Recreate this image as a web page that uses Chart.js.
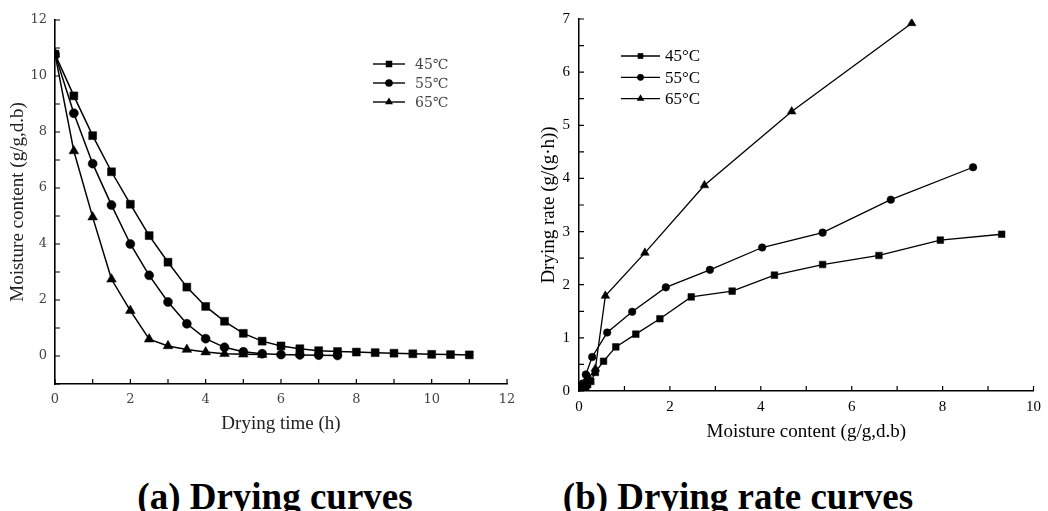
<!DOCTYPE html>
<html>
<head>
<meta charset="utf-8">
<script src="https://cdn.jsdelivr.net/npm/chart.js@4.4.0/dist/chart.umd.min.js"></script>
<style>
  html, body { margin: 0; padding: 0; background: #fff; }
  body { width: 1048px; height: 511px; position: relative; overflow: hidden; }
  #chart-a { position: absolute; left: 0; top: 0; }
  #chart-b { position: absolute; left: 530px; top: 0; }
  .cap {
    position: absolute; top: 475px; line-height: 37px; white-space: nowrap;
    font: bold 37px "Liberation Serif", "Times New Roman", serif; color: #000;
    transform: translateX(-50%);
  }
</style>
</head>
<body>
<canvas id="chart-a" width="530" height="445"></canvas>
<canvas id="chart-b" width="518" height="445"></canvas>
<div class="cap" style="left:275px">(a) Drying curves</div>
<div class="cap" style="left:738px">(b) Drying rate curves</div>

<script>
/* ---- Data: (a) drying curves ---- */
const TIME_H = [0, 0.5, 1, 1.5, 2, 2.5, 3, 3.5, 4, 4.5, 5, 5.5, 6, 6.5, 7, 7.5, 8, 8.5, 9, 9.5, 10, 10.5, 11];
const MC_45 = [10.78, 9.29, 7.87, 6.58, 5.42, 4.3, 3.35, 2.46, 1.77, 1.24, 0.81, 0.53, 0.36, 0.26, 0.19, 0.16, 0.14, 0.12, 0.1, 0.08, 0.06, 0.05, 0.04];
const MC_55 = [10.78, 8.67, 6.87, 5.39, 4.0, 2.88, 1.93, 1.15, 0.62, 0.31, 0.15, 0.08, 0.05, 0.04, 0.03, 0.02];
const MC_65 = [10.78, 7.32, 4.96, 2.74, 1.62, 0.6, 0.36, 0.23, 0.14, 0.08, 0.06, 0.05];

/* ---- Data: (b) drying rate curves ---- */
const RX_45 = [9.30, 7.95, 6.60, 5.36, 4.30, 3.37, 2.47, 1.78, 1.25, 0.81, 0.54, 0.36, 0.26, 0.19, 0.15, 0.13, 0.11, 0.10, 0.07, 0.05, 0.04, 0.03];
const RATE_45 = [2.95, 2.84, 2.55, 2.38, 2.18, 1.88, 1.77, 1.36, 1.07, 0.83, 0.56, 0.35, 0.18, 0.12, 0.06, 0.04, 0.04, 0.02, 0.05, 0.04, 0.02, 0.02];
const RX_55 = [8.67, 6.86, 5.36, 4.03, 2.88, 1.91, 1.17, 0.62, 0.29, 0.15, 0.08, 0.05, 0.04, 0.03, 0.02];
const RATE_55 = [4.21, 3.60, 2.98, 2.70, 2.28, 1.95, 1.49, 1.10, 0.64, 0.31, 0.14, 0.07, 0.03, 0.02, 0.02];
const RX_65 = [7.32, 4.68, 2.76, 1.45, 0.58, 0.36, 0.22, 0.14, 0.08, 0.06, 0.05];
const RATE_65 = [6.92, 5.26, 3.87, 2.60, 1.79, 0.42, 0.25, 0.17, 0.11, 0.05, 0.03];

const LABELS_A = ['45\u2103', '55\u2103', '65\u2103'];
const LABELS_B = ['45\u00B0C', '55\u00B0C', '65\u00B0C'];
const STYLES = ['rect', 'circle', 'triangle'];

Chart.defaults.font.family = '"Liberation Serif", "Times New Roman", serif';
Chart.defaults.color = '#000';

const pairs = (xs, ys) => xs.map((x, i) => ({ x, y: ys[i] }));

// tick marks pointing into the plot, at every tick of both axes
const innerTicks = {
  id: 'innerTicks',
  afterDraw(chart, args, opts) {
    const { ctx, chartArea: a, scales: { x, y } } = chart;
    ctx.save();
    ctx.strokeStyle = '#000';
    ctx.lineWidth = opts.width;
    ctx.beginPath();
    x.ticks.forEach(t => {
      const px = x.getPixelForValue(t.value);
      ctx.moveTo(px, a.bottom); ctx.lineTo(px, a.bottom - opts.len);
    });
    y.ticks.forEach(t => {
      const py = y.getPixelForValue(t.value);
      ctx.moveTo(a.left, py); ctx.lineTo(a.left + opts.len, py);
    });
    ctx.stroke();
    ctx.restore();
  }
};

// legend with a short line through the marker, drawn inside the plot
const lineLegend = {
  id: 'lineLegend',
  afterDraw(chart, args, opts) {
    const { ctx, chartArea: a } = chart;
    chart.data.datasets.forEach((ds, i) => {
      const x0 = a.left + opts.x;
      const y = a.top + opts.y + i * opts.gap;
      ctx.save();
      ctx.strokeStyle = '#000';
      ctx.lineWidth = opts.lineWidth;
      ctx.beginPath(); ctx.moveTo(x0, y); ctx.lineTo(x0 + opts.len, y); ctx.stroke();
      ctx.fillStyle = '#000';
      Chart.helpers.drawPoint(ctx, { pointStyle: ds.pointStyle, radius: opts.radius[i], borderWidth: 0, rotation: 0 }, x0 + opts.len / 2, y);
      ctx.font = opts.font;
      ctx.fillStyle = opts.color;
      ctx.textBaseline = 'middle';
      ctx.fillText(ds.label, x0 + opts.len + opts.textGap, y + 1);
      ctx.restore();
    });
  }
};

function series(label, data, style, radius, lw) {
  return {
    label, data, pointStyle: style,
    showLine: true, borderColor: '#000', borderWidth: lw,
    pointRadius: radius, pointBackgroundColor: '#000', pointBorderColor: '#000', pointBorderWidth: 0.5,
    tension: 0
  };
}

/* ---- (a) Drying curves ---- */
const tickFontA = { family: '"DejaVu Serif", serif', size: 13 };
new Chart(document.getElementById('chart-a'), {
  type: 'scatter',
  data: {
    datasets: [
      series(LABELS_A[0], pairs(TIME_H, MC_45), STYLES[0], 5.6, 1.5),
      series(LABELS_A[1], pairs(TIME_H, MC_55), STYLES[1], 4.5, 1.5),
      series(LABELS_A[2], pairs(TIME_H, MC_65), STYLES[2], 5.6, 1.5)
    ]
  },
  options: {
    responsive: false,
    animation: false,
    layout: { padding: { left: 0, top: 20, right: 23, bottom: 0 } },
    plugins: {
      legend: { display: false },
      tooltip: { enabled: false },
      innerTicks: { len: 5, width: 1.2 },
      lineLegend: {
        x: 318, y: 44, gap: 19, len: 32, textGap: 10, lineWidth: 1.4, radius: [4.6, 3.8, 4.6],
        font: '14px "DejaVu Serif", serif', color: '#444'
      }
    },
    scales: {
      x: {
        type: 'linear', min: 0, max: 12,
        afterFit: s => { s.height = 61; },
        grid: { display: false, drawTicks: false },
        border: { display: true, color: '#000', width: 1.6 },
        ticks: { stepSize: 1, padding: 8, color: '#444', font: tickFontA, callback: v => (v % 2 === 0 ? v : '') },
        title: { display: true, text: 'Drying time (h)', color: '#222', font: { size: 19 }, padding: { top: 0, bottom: 10 } }
      },
      y: {
        type: 'linear', min: -1, max: 12,
        afterFit: s => { s.width = 55; },
        grid: { display: false, drawTicks: false },
        border: { display: true, color: '#000', width: 1.6 },
        ticks: { stepSize: 1, padding: 8, color: '#444', font: tickFontA, callback: v => (v >= 0 && v % 2 === 0 ? v : '') },
        title: { display: true, text: 'Moisture content (g/g,d.b)', color: '#222', font: { size: 19 }, padding: { top: 7, bottom: 0 } }
      }
    }
  },
  plugins: [innerTicks, lineLegend]
});

/* ---- (b) Drying rate curves ---- */
new Chart(document.getElementById('chart-b'), {
  type: 'scatter',
  data: {
    datasets: [
      series(LABELS_B[0], pairs(RX_45, RATE_45), STYLES[0], 4.7, 1.3),
      series(LABELS_B[1], pairs(RX_55, RATE_55), STYLES[1], 3.8, 1.3),
      series(LABELS_B[2], pairs(RX_65, RATE_65), STYLES[2], 5.0, 1.3)
    ]
  },
  options: {
    responsive: false,
    animation: false,
    layout: { padding: { left: 0, top: 19, right: 9, bottom: 0 } },
    plugins: {
      legend: { display: false },
      tooltip: { enabled: false },
      innerTicks: { len: 5, width: 1.2 },
      lineLegend: {
        x: 42, y: 37, gap: 21.3, len: 39, textGap: 5, lineWidth: 1.3, radius: [4, 3.4, 4.4],
        font: '17px "Liberation Serif", serif', color: '#000'
      }
    },
    scales: {
      x: {
        type: 'linear', min: 0, max: 10,
        afterFit: s => { s.height = 54; },
        grid: { display: false, drawTicks: false },
        border: { display: true, color: '#000', width: 1.5 },
        ticks: { stepSize: 1, padding: 7, font: { size: 15 }, callback: v => (v % 2 === 0 ? v : '') },
        title: { display: true, text: 'Moisture content (g/g,d.b)', font: { size: 19 }, padding: { top: 0, bottom: 2 } }
      },
      y: {
        type: 'linear', min: 0, max: 7,
        afterFit: s => { s.width = 49; },
        grid: { display: false, drawTicks: false },
        border: { display: true, color: '#000', width: 1.5 },
        ticks: { stepSize: 0.5, padding: 9, font: { size: 15 }, callback: v => (Number.isInteger(v) ? v : '') },
        title: { display: true, text: 'Drying rate (g/(g\u00B7h))', font: { size: 19 }, padding: { top: 8, bottom: 0 } }
      }
    }
  },
  plugins: [innerTicks, lineLegend]
});
</script>
</body>
</html>
